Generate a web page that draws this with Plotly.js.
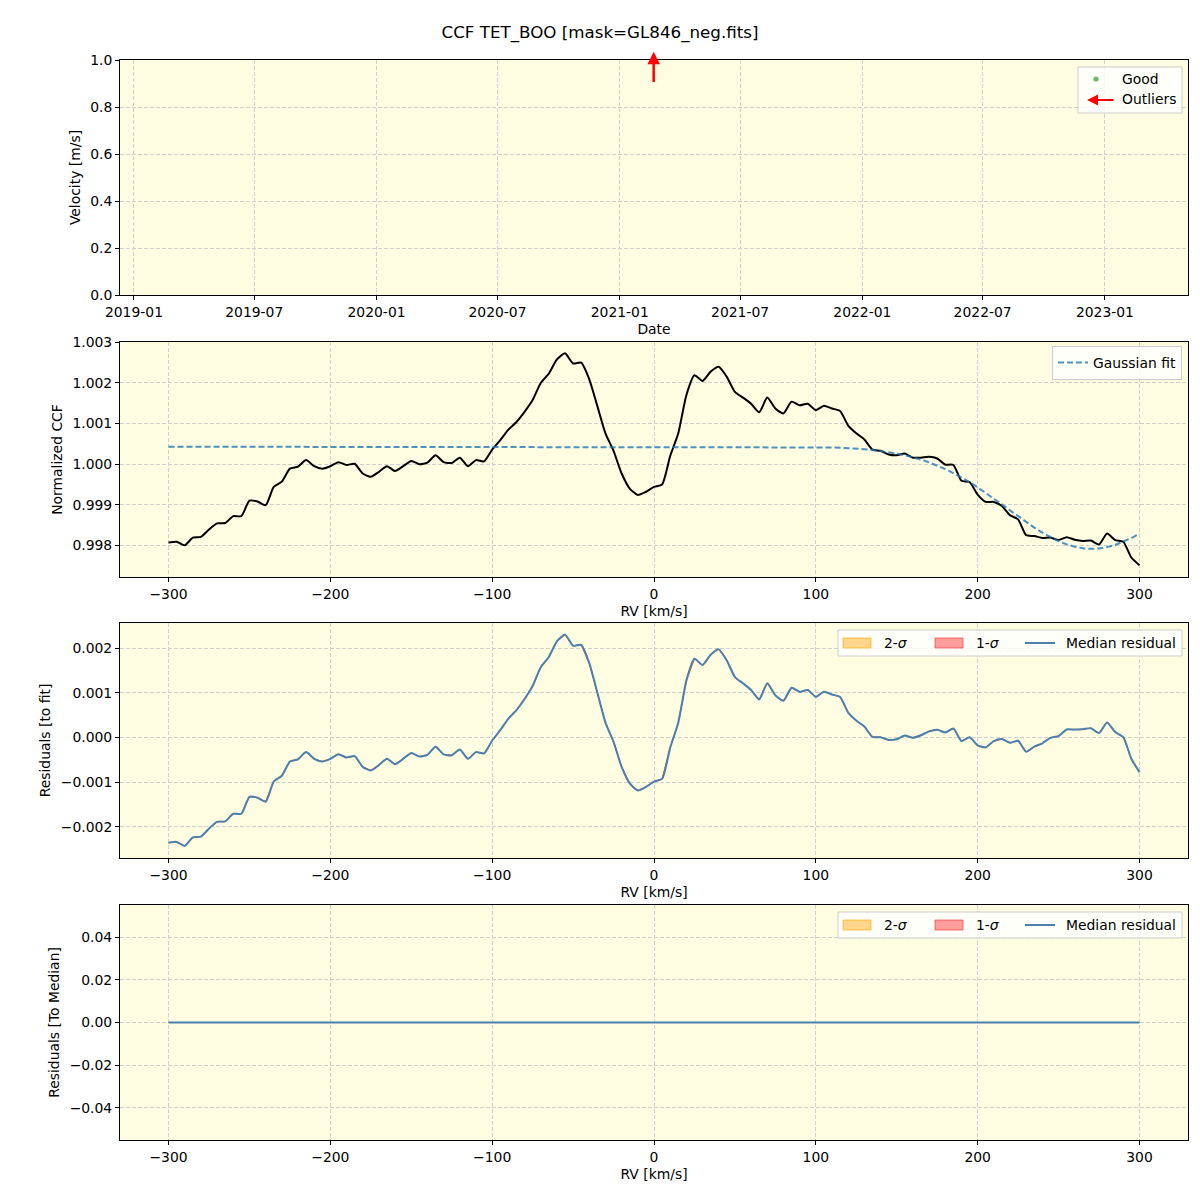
<!DOCTYPE html>
<html>
<head>
<meta charset="utf-8">
<script src="https://cdn.plot.ly/plotly-3.0.1.min.js"></script>
<style>html,body{margin:0;padding:0;background:#fff;}#chart{width:1200px;height:1200px;}</style>
</head>
<body>
<div id="chart"></div>
<script>
// ---------------- data ----------------
const chartTitle = 'CCF TET_BOO [mask=GL846_neg.fits]';

// top panel: good points (none) and outlier epochs
const goodDates = [];
const goodVelocity = [];
const outlierDates = ['2021-02-21'];

// RV grid [km/s]
const rv = [-300,-295,-290,-285,-280,-275,-270,-265,-260,-255,-250,-245,-240,-235,-230,-225,-220,-215,-210,-205,
  -200,-195,-190,-185,-180,-175,-170,-165,-160,-155,-150,-145,-140,-135,-130,-125,-120,-115,-110,-105,
  -100,-95,-90,-85,-80,-75,-70,-65,-60,-55,-50,-45,-40,-35,-30,-25,-20,-15,-10,-5,
  0,5,10,15,20,25,30,35,40,45,50,55,60,65,70,75,80,85,90,95,
  100,105,110,115,120,125,130,135,140,145,150,155,160,165,170,175,180,185,190,195,
  200,205,210,215,220,225,230,235,240,245,250,255,260,265,270,275,280,285,290,295,300];

// normalized CCF
const ccf = [0.99807,0.99809,0.99800,0.99819,0.99821,0.99839,0.99854,0.99855,0.99872,0.99872,
  0.99910,0.99908,0.99899,0.99944,0.99957,0.99989,0.99994,1.00010,0.99995,0.99989,
  0.99995,1.00005,0.99998,1.00001,0.99977,0.99969,0.99981,0.99995,0.99983,0.99995,
  1.00008,1.00000,1.00004,1.00022,1.00005,1.00003,1.00016,0.99995,1.00010,1.00007,
  1.00036,1.00059,1.00085,1.00104,1.00129,1.00158,1.00200,1.00223,1.00258,1.00273,
  1.00248,1.00250,1.00209,1.00143,1.00076,1.00033,0.99977,0.99940,0.99924,0.99932,
  0.99944,0.99950,1.00020,1.00076,1.00170,1.00219,1.00205,1.00228,1.00240,1.00215,
  1.00178,1.00164,1.00149,1.00128,1.00164,1.00137,1.00125,1.00154,1.00145,1.00149,
  1.00133,1.00144,1.00137,1.00131,1.00095,1.00076,1.00061,1.00036,1.00033,1.00024,
  1.00022,1.00026,1.00016,1.00016,1.00018,1.00014,0.99999,0.99998,0.99959,0.99956,
  0.99925,0.99907,0.99907,0.99897,0.99874,0.99864,0.99825,0.99823,0.99818,0.99819,
  0.99813,0.99820,0.99814,0.99811,0.99812,0.99802,0.99829,0.99813,0.99809,0.99770,0.99751];

// Gaussian fit
const gaussFit = [1.00043,1.00043,1.00043,1.00043,1.00043,1.00043,1.00043,1.00043,1.00043,1.00043,
  1.00043,1.00043,1.00043,1.00043,1.00043,1.00043,1.00043,1.00043,1.00043,1.00043,
  1.00043,1.00043,1.00043,1.00043,1.00043,1.00043,1.00043,1.00043,1.00043,1.00043,
  1.00043,1.00043,1.00043,1.00043,1.00043,1.00043,1.00043,1.00043,1.00043,1.00043,
  1.00043,1.00043,1.00043,1.00043,1.00043,1.00043,1.00043,1.00043,1.00043,1.00043,
  1.00043,1.00043,1.00043,1.00043,1.00043,1.00043,1.00043,1.00043,1.00043,1.00043,
  1.00043,1.00043,1.00043,1.00043,1.00043,1.00043,1.00043,1.00043,1.00043,1.00043,
  1.00043,1.00043,1.00043,1.00043,1.00043,1.00043,1.00043,1.00043,1.00043,1.00043,
  1.000422,1.000418,1.000412,1.000405,1.000396,1.000384,1.000368,1.000349,1.000326,1.000297,
  1.000262,1.000220,1.000170,1.000112,1.000045,0.999967,0.999880,0.999782,0.999673,0.999556,
  0.999429,0.999294,0.999153,0.999008,0.998862,0.998716,0.998573,0.998438,0.998312,0.998200,
  0.998102,0.998023,0.997965,0.997928,0.997914,0.997923,0.997956,0.998010,0.998085,0.998179,0.998288];

// residuals to the median CCF (single spectrum -> all zero)
const residToMedian = [0,0,0,0,0,0,0,0,0,0,0,0,0,0,0,0,0,0,0,0,0,0,0,0,0,0,0,0,0,0,
  0,0,0,0,0,0,0,0,0,0,0,0,0,0,0,0,0,0,0,0,0,0,0,0,0,0,0,0,0,0,
  0,0,0,0,0,0,0,0,0,0,0,0,0,0,0,0,0,0,0,0,0,0,0,0,0,0,0,0,0,0,
  0,0,0,0,0,0,0,0,0,0,0,0,0,0,0,0,0,0,0,0,0,0,0,0,0,0,0,0,0,0,0];

// residuals to the fit
const residToFit = ccf.map((v, i) => v - gaussFit[i]);

// legend labels
const bandLabels = ['2-<i>σ</i>', '1-<i>σ</i>'];
const medianLabel = 'Median residual';

// ---------------- styling ----------------
const FONT = 'DejaVu Sans';
const FS = 13.9;
const bandOrange = 'rgba(255,165,0,0.45)';
const bandRed = 'rgba(255,40,40,0.45)';
const bandOrangeEdge = 'rgba(255,165,0,0.6)';
const bandRedEdge = 'rgba(240,40,40,0.6)';
const medianColor = '#4a7fae';
const txtFont = { family: FONT, size: FS, color: '#000' };

function band(xs, ys) {
  return { x: xs.concat(xs.slice().reverse()), y: ys.concat(ys.slice().reverse()) };
}

const traces = [];
traces.push({ x: goodDates, y: goodVelocity, xaxis: 'x', yaxis: 'y', mode: 'markers',
  marker: { color: 'rgba(44,160,44,0.7)', size: 5 }, showlegend: false, name: 'Good' });

traces.push({ x: rv, y: ccf, xaxis: 'x2', yaxis: 'y2', mode: 'lines',
  line: { color: '#000', width: 2, shape: 'spline', smoothing: 0.6 }, showlegend: false, name: 'CCF' });
traces.push({ x: rv, y: gaussFit, xaxis: 'x2', yaxis: 'y2', mode: 'lines', name: 'Gaussian fit',
  line: { color: 'rgba(31,119,180,0.8)', width: 2, dash: '6px,3px' }, legend: 'legend' });

function residualPanel(xa, ya, ys) {
  const b = band(rv, ys);
  traces.push({ x: b.x, y: b.y, xaxis: xa, yaxis: ya, mode: 'lines', fill: 'toself',
    fillcolor: bandOrange, line: { color: bandOrange, width: 1 }, name: bandLabels[0], showlegend: false });
  traces.push({ x: b.x, y: b.y, xaxis: xa, yaxis: ya, mode: 'lines', fill: 'toself',
    fillcolor: bandRed, line: { color: bandRed, width: 1 }, name: bandLabels[1], showlegend: false });
  traces.push({ x: rv, y: ys, xaxis: xa, yaxis: ya, mode: 'lines', name: medianLabel, showlegend: false,
    line: { color: medianColor, width: 2, shape: 'spline', smoothing: 0.6 } });
}
residualPanel('x3', 'y3', residToFit);
residualPanel('x4', 'y4', residToMedian);

const axisBase = {
  showline: true, linecolor: '#000', linewidth: 1, mirror: true,
  ticks: 'outside', ticklen: 4, tickwidth: 1, tickcolor: '#000',
  showgrid: true, gridcolor: '#cfcfcf', griddash: '4px,2px', gridwidth: 1,
  zeroline: false, tickfont: txtFont, automargin: false
};
function ax(extra) { return Object.assign({}, axisBase, extra); }
function ttl(t, s) { return { text: t, font: txtFont, standoff: s }; }

const rvAxis = (anchor) => ax({ anchor: anchor, range: [-330, 330], tick0: 0, dtick: 100,
  title: ttl('RV [km/s]', 5) });

// paper coordinates of panels
const P = { w: 1068, h: 1080, l: 120, t: 60 };
const px2x = (px) => (px - P.l) / P.w;
const px2y = (py) => (P.t + P.h - py) / P.h;

const shapes = [];
const annotations = [];

// manual legend box (top panel)
shapes.push({ type: 'rect', xref: 'paper', yref: 'paper', x0: px2x(1078), x1: px2x(1182), y0: px2y(113), y1: px2y(67),
  fillcolor: 'rgba(255,255,255,0.8)', line: { color: '#cccccc', width: 1 }, layer: 'above' });
shapes.push({ type: 'circle', xref: 'paper', yref: 'paper', xsizemode: 'pixel', ysizemode: 'pixel',
  xanchor: px2x(1096), yanchor: px2y(79), x0: -2.6, x1: 2.6, y0: -2.6, y1: 2.6,
  fillcolor: 'rgba(44,160,44,0.7)', line: { width: 0 }, layer: 'above' });
annotations.push({ xref: 'paper', yref: 'paper', x: px2x(1120), y: px2y(79), text: 'Good', showarrow: false,
  xanchor: 'left', yanchor: 'middle', font: txtFont });
annotations.push({ xref: 'paper', yref: 'paper', x: px2x(1120), y: px2y(99), text: 'Outliers', showarrow: false,
  xanchor: 'left', yanchor: 'middle', font: txtFont });
annotations.push({ xref: 'paper', yref: 'paper', x: px2x(1087), y: px2y(100), ax: 28, ay: 0, text: '',
  showarrow: true, arrowhead: 2, arrowsize: 1, arrowwidth: 2.2, arrowcolor: '#ff0000' });

// manual horizontal legends (residual panels)
function residLegend(top) {
  shapes.push({ type: 'rect', xref: 'paper', yref: 'paper', x0: px2x(838), x1: px2x(1182), y0: px2y(top + 26), y1: px2y(top),
    fillcolor: 'rgba(255,255,255,0.8)', line: { color: '#cccccc', width: 1 }, layer: 'above' });
  shapes.push({ type: 'rect', xref: 'paper', yref: 'paper', x0: px2x(843), x1: px2x(871), y0: px2y(top + 18), y1: px2y(top + 8),
    fillcolor: bandOrange, line: { color: bandOrangeEdge, width: 1 }, layer: 'above' });
  shapes.push({ type: 'rect', xref: 'paper', yref: 'paper', x0: px2x(935), x1: px2x(963), y0: px2y(top + 18), y1: px2y(top + 8),
    fillcolor: bandRed, line: { color: bandRedEdge, width: 1 }, layer: 'above' });
  shapes.push({ type: 'line', xref: 'paper', yref: 'paper', x0: px2x(1025), x1: px2x(1055), y0: px2y(top + 13), y1: px2y(top + 13),
    line: { color: medianColor, width: 2 }, layer: 'above' });
  annotations.push({ xref: 'paper', yref: 'paper', x: px2x(882), y: px2y(top + 13), text: bandLabels[0], showarrow: false,
    xanchor: 'left', yanchor: 'middle', font: txtFont });
  annotations.push({ xref: 'paper', yref: 'paper', x: px2x(974), y: px2y(top + 13), text: bandLabels[1], showarrow: false,
    xanchor: 'left', yanchor: 'middle', font: txtFont });
  annotations.push({ xref: 'paper', yref: 'paper', x: px2x(1064), y: px2y(top + 13), text: medianLabel, showarrow: false,
    xanchor: 'left', yanchor: 'middle', font: txtFont });
}
residLegend(630);
residLegend(912);

// outlier arrows (top panel)
outlierDates.forEach(d => annotations.push({
  xref: 'x', yref: 'y', x: d, y: 1.035, axref: 'x', ayref: 'y', ax: d, ay: 0.9, text: '',
  showarrow: true, arrowhead: 2, arrowsize: 1, arrowwidth: 2.5, arrowcolor: '#ff0000'
}));

const layout = {
  width: 1200, height: 1200,
  margin: { l: 120, r: 12, t: 60, b: 60 },
  paper_bgcolor: '#ffffff', plot_bgcolor: '#fefce1',
  font: txtFont,
  hovermode: false,
  title: { text: chartTitle, font: { family: FONT, size: 16.7, color: '#000' },
    x: 0.5, xref: 'container', xanchor: 'center', y: 1 - 32 / 1200, yref: 'container', yanchor: 'middle' },

  xaxis: ax({ anchor: 'y', type: 'date', range: ['2018-12-11', '2023-05-06'],
    tick0: '2019-01-01', dtick: 'M6', tickformat: '%Y-%m', title: ttl('Date', 5) }),
  yaxis: ax({ anchor: 'x', domain: [px2y(295), 1], range: [0, 1], dtick: 0.2, tickformat: '.1f',
    title: ttl('Velocity [m/s]', 6) }),

  xaxis2: rvAxis('y2'),
  yaxis2: ax({ anchor: 'x2', domain: [px2y(577), px2y(342)], range: [0.99722, 1.00301],
    dtick: 0.001, tick0: 1, tickformat: '.3f', title: ttl('Normalized CCF', 6) }),

  xaxis3: rvAxis('y3'),
  yaxis3: ax({ anchor: 'x3', domain: [px2y(858), px2y(623)], range: [-0.00270, 0.00256],
    dtick: 0.001, tick0: 0, tickformat: '.3f', title: ttl('Residuals [to fit]', 6) }),

  xaxis4: rvAxis('y4'),
  yaxis4: ax({ anchor: 'x4', domain: [0, px2y(905)], range: [-0.055, 0.055],
    dtick: 0.02, tick0: 0, tickformat: '.2f', title: ttl('Residuals [To Median]', 6) }),

  legend: { x: px2x(1182), y: px2y(346), xanchor: 'right', yanchor: 'top', bgcolor: 'rgba(255,255,255,0.8)',
    bordercolor: '#cccccc', borderwidth: 1, font: txtFont, itemwidth: 30 },

  shapes: shapes,
  annotations: annotations
};

Plotly.newPlot('chart', traces, layout, { staticPlot: true, displayModeBar: false });
</script>
</body>
</html>
